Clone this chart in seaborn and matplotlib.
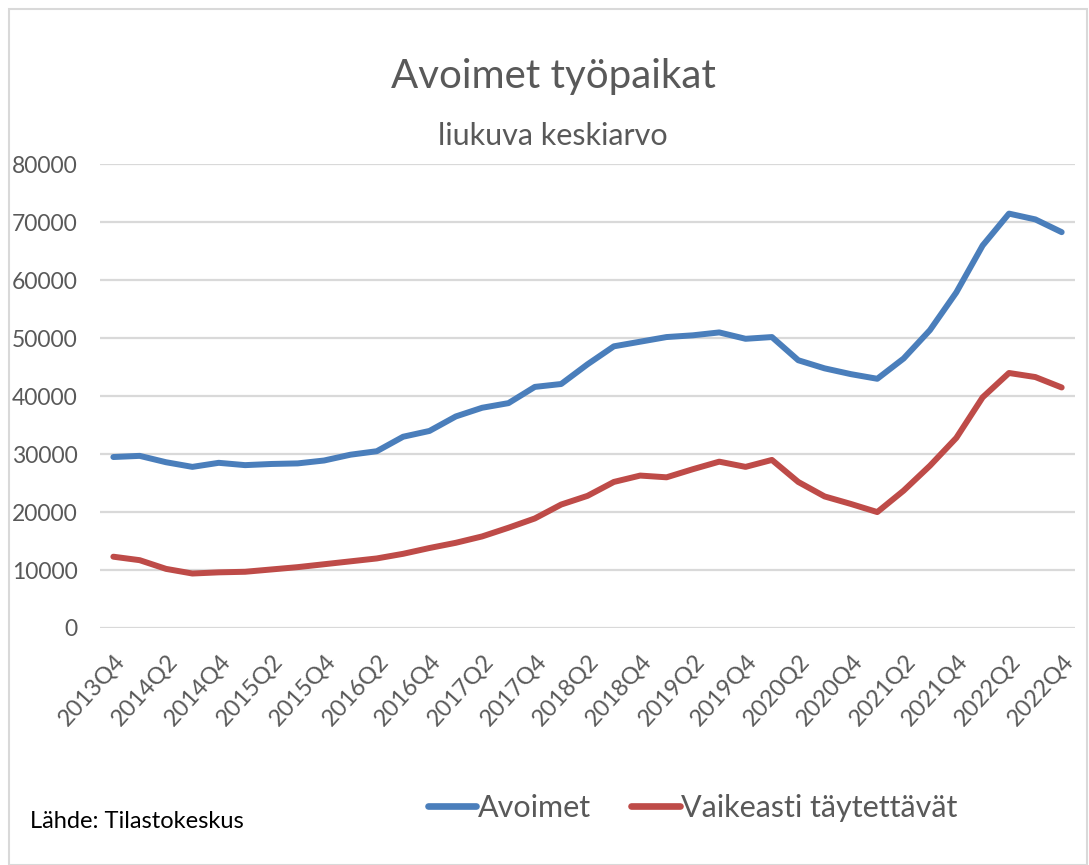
import numpy as np
import pandas as pd
import matplotlib
matplotlib.use("Agg")
import matplotlib.pyplot as plt
import seaborn as sns
from matplotlib.patches import Rectangle

# quarters on the category axis
quarters = [
    "2013Q4", "2014Q1", "2014Q2", "2014Q3", "2014Q4", "2015Q1", "2015Q2", "2015Q3",
    "2015Q4", "2016Q1", "2016Q2", "2016Q3", "2016Q4", "2017Q1", "2017Q2", "2017Q3",
    "2017Q4", "2018Q1", "2018Q2", "2018Q3", "2018Q4", "2019Q1", "2019Q2", "2019Q3",
    "2019Q4", "2020Q1", "2020Q2", "2020Q3", "2020Q4", "2021Q1", "2021Q2", "2021Q3",
    "2021Q4", "2022Q1", "2022Q2", "2022Q3", "2022Q4",
]

# moving averages
avoimet = [
    29500, 29700, 28600, 27800, 28500, 28100, 28300, 28400, 28900, 29900,
    30500, 33000, 34000, 36500, 38000, 38800, 41600, 42100, 45500, 48600,
    49400, 50200, 50500, 51000, 49900, 50200, 46200, 44800, 43800, 43000,
    46500, 51400, 57900, 66000, 71500, 70500, 68300,
]
vaikeasti = [
    12300, 11700, 10200, 9400, 9600, 9700, 10100, 10500, 11000, 11500,
    12000, 12800, 13800, 14700, 15800, 17300, 18900, 21300, 22800, 25200,
    26300, 26000, 27400, 28700, 27800, 29000, 25200, 22700, 21400, 20000,
    23700, 28000, 32800, 39800, 44000, 43300, 41500,
]

series_names = ["Avoimet", "Vaikeasti täytettävät"]
y_ticks = [0, 10000, 20000, 30000, 40000, 50000, 60000, 70000, 80000]

sns.set_theme(style="white")
plt.rcParams["font.family"] = ["Lato", "DejaVu Sans"]

df = pd.DataFrame({
    "pos": list(range(len(quarters))) * 2,
    "arvo": avoimet + vaikeasti,
    "sarja": [series_names[0]] * len(quarters) + [series_names[1]] * len(quarters),
})

fig = plt.figure(figsize=(10.89, 8.65), dpi=100)
ax = fig.add_axes([0.092, 0.274, 0.895, 0.536])

grid_col = "#d9d9d9"
for v in y_ticks:
    ax.axhline(v, color=grid_col, lw=1.6, zorder=0)

palette = {series_names[0]: "#4a7ebb", series_names[1]: "#be4b48"}
sns.lineplot(data=df, x="pos", y="arvo", hue="sarja", palette=palette,
             linewidth=4.3, ax=ax, legend=False, solid_capstyle="round")

ax.set_xlim(-0.5, len(quarters) - 0.5)
ax.set_ylim(0, 80000)
ax.set_yticks(y_ticks)
ax.set_yticklabels([str(v) for v in y_ticks], fontsize=16.5, color="#595959")
tick_pos = list(range(0, len(quarters), 2))
ax.set_xticks(tick_pos)
ax.set_xticklabels([quarters[i] for i in tick_pos], rotation=48, ha="right",
                   rotation_mode="anchor", fontsize=17, color="#595959")
ax.tick_params(axis="y", length=0, pad=16)
ax.tick_params(axis="x", length=0, pad=16)
ax.set_xlabel("")
ax.set_ylabel("")
for s in ax.spines.values():
    s.set_visible(False)

fig.text(0.508, 0.912, "Avoimet työpaikat", ha="center", va="center",
         fontsize=29, color="#595959")
fig.text(0.508, 0.843, "liukuva keskiarvo", ha="center", va="center",
         fontsize=22, color="#595959")

# legend
handles = [plt.Line2D([], [], color=palette[n], lw=4.8) for n in series_names]
fig.legend(handles, series_names, loc="center", bbox_to_anchor=(0.636, 0.066),
           ncol=2, frameon=False, fontsize=22, handlelength=1.6,
           handletextpad=0.05, columnspacing=1.3, labelcolor="#595959")

fig.text(0.028, 0.05, "Lähde: Tilastokeskus", ha="left", va="center",
         fontsize=17, color="black")

# thin frame round the whole chart
fig.patches.append(Rectangle((0.008, 0.0), 0.99, 0.99, transform=fig.transFigure,
                             fill=False, edgecolor="#d9d9d9", lw=1.5))

fig.savefig("out.png", dpi=100)
